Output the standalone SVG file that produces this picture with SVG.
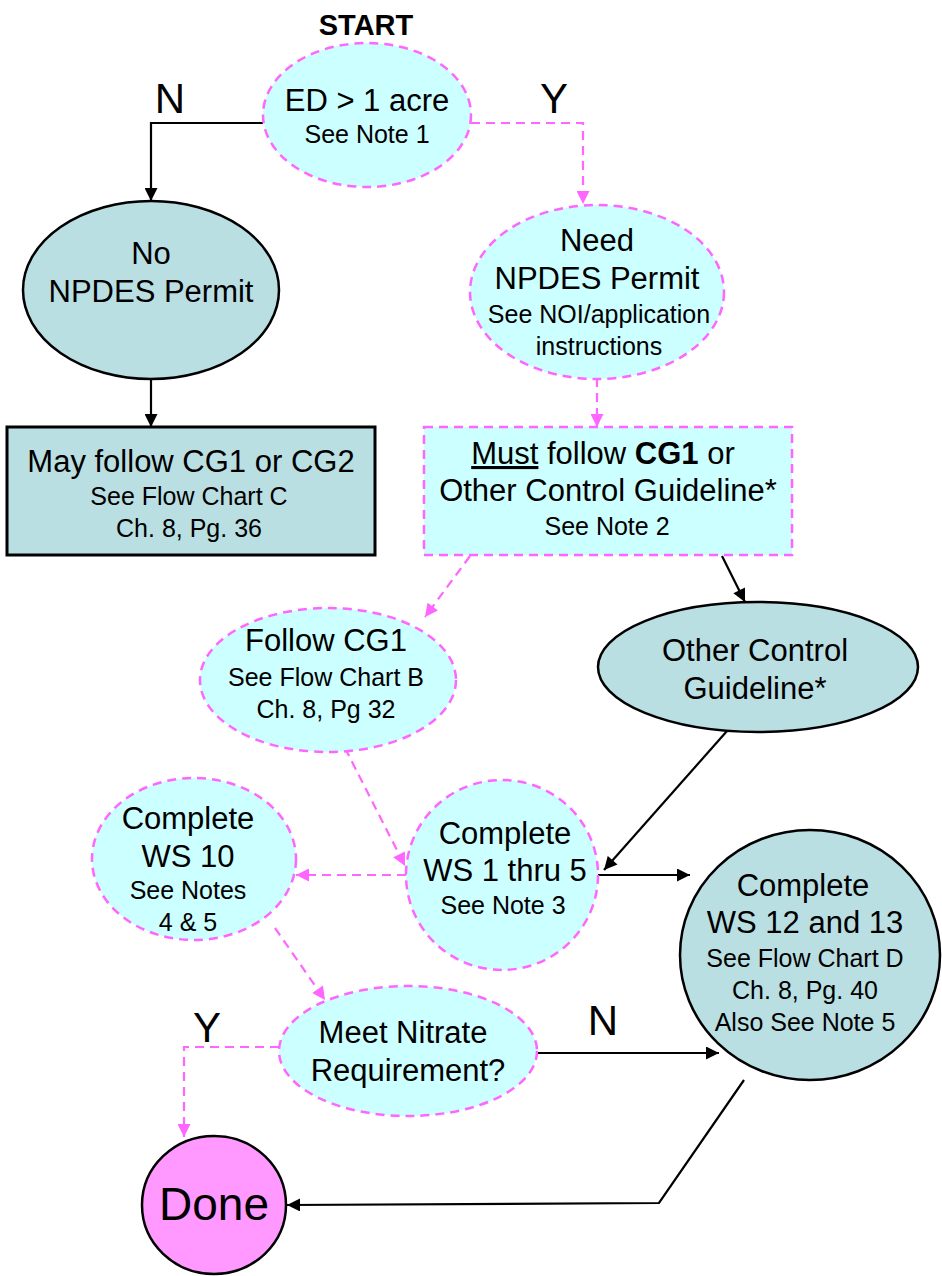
<svg xmlns="http://www.w3.org/2000/svg" width="942" height="1276" viewBox="0 0 942 1276">
<defs>
<marker id="ab" viewBox="0 0 10 10" refX="10" refY="5" markerWidth="14" markerHeight="13" orient="auto" markerUnits="userSpaceOnUse">
<path d="M0,0 L10,5 L0,10 z" fill="#000"/>
</marker>
<marker id="am" viewBox="0 0 10 10" refX="10" refY="5" markerWidth="14" markerHeight="13" orient="auto" markerUnits="userSpaceOnUse">
<path d="M0,0 L10,5 L0,10 z" fill="#ff66ff"/>
</marker>
<style>
text{font-family:"Liberation Sans",Arial,sans-serif;fill:#000;text-anchor:middle}
.b{font-size:31px}
.s{font-size:25px}
.lbl{font-size:42px}
.cy{fill:#ccffff;stroke:#ff66ff;stroke-width:2.5;stroke-dasharray:9,6}
.tl{fill:#b9dfe3;stroke:#000;stroke-width:2.5}
.blk{fill:none;stroke:#000;stroke-width:2.2;marker-end:url(#ab)}
.mg{fill:none;stroke:#ff66ff;stroke-width:2.2;stroke-dasharray:9,6;marker-end:url(#am)}
</style>
</defs>
<g id="connectors">
<path class="blk" d="M263,123 H151 V201"/>
<path class="mg" d="M471,123 H583 V204"/>
<path class="blk" d="M151,378 V427"/>
<path class="mg" d="M597,378 V427"/>
<path class="mg" d="M470,556 L425,617"/>
<path class="blk" d="M722,556 L745,602"/>
<path class="blk" d="M727,731 L604,870"/>
<path class="mg" d="M345,748 L405,866"/>
<path class="mg" d="M406,875 H296"/>
<path class="blk" d="M598,875 H690"/>
<path class="mg" d="M275,928 L325,1000"/>
<path class="blk" d="M537,1053 H719"/>
<path class="mg" d="M279,1047 H184 V1137"/>
<path class="blk" d="M744,1080 L659,1203 L287,1205"/>
</g>
<g id="labels">
<text x="366" y="35" style="font-size:29px;font-weight:bold">START</text>
<text class="lbl" x="170" y="113">N</text>
<text class="lbl" x="554" y="113">Y</text>
<text class="lbl" x="603" y="1035">N</text>
<text class="lbl" x="207" y="1042">Y</text>
</g>
<g id="n-ed">
<ellipse class="cy" cx="367" cy="115" rx="104" ry="72"/>
<text class="b" x="367" y="111">ED &gt; 1 acre</text>
<text class="s" x="367" y="143">See Note 1</text>
</g>
<g id="n-no">
<ellipse class="tl" cx="151" cy="290" rx="128" ry="89"/>
<text class="b" x="151" y="264">No</text>
<text class="b" x="151" y="302">NPDES Permit</text>
</g>
<g id="n-need">
<ellipse class="cy" cx="597" cy="292" rx="127" ry="87"/>
<text class="b" x="597" y="251">Need</text>
<text class="b" x="597" y="289">NPDES Permit</text>
<text class="s" x="599" y="323">See NOI/application</text>
<text class="s" x="599" y="355">instructions</text>
</g>
<g id="n-may">
<rect class="tl" x="7" y="427" width="368" height="128" style="stroke-width:3"/>
<text class="b" x="191" y="472">May follow CG1 or CG2</text>
<text class="s" x="189" y="505">See Flow Chart C</text>
<text class="s" x="189" y="537">Ch. 8, Pg. 36</text>
</g>
<g id="n-must">
<rect class="cy" x="424" y="427" width="368" height="128"/>
<text class="b" x="603" y="464"><tspan text-decoration="underline">Must</tspan> follow <tspan font-weight="bold">CG1</tspan> or</text>
<text class="b" x="608" y="501">Other Control Guideline*</text>
<text class="s" x="607" y="535">See Note 2</text>
</g>
<g id="n-follow">
<ellipse class="cy" cx="328" cy="680" rx="128" ry="72"/>
<text class="b" x="326" y="651">Follow CG1</text>
<text class="s" x="326" y="686">See Flow Chart B</text>
<text class="s" x="326" y="718">Ch. 8, Pg 32</text>
</g>
<g id="n-other">
<ellipse class="tl" cx="758" cy="667" rx="160" ry="65"/>
<text class="b" x="755" y="661">Other Control</text>
<text class="b" x="755" y="699">Guideline*</text>
</g>
<g id="n-ws15">
<ellipse class="cy" cx="502" cy="875" rx="96" ry="95"/>
<text class="b" x="505" y="844">Complete</text>
<text class="b" x="505" y="881">WS 1 thru 5</text>
<text class="s" x="503" y="914">See Note 3</text>
</g>
<g id="n-ws10">
<ellipse class="cy" cx="194" cy="859" rx="102" ry="81"/>
<text class="b" x="188" y="829">Complete</text>
<text class="b" x="188" y="867">WS 10</text>
<text class="s" x="188" y="899">See Notes</text>
<text class="s" x="188" y="931">4 &amp; 5</text>
</g>
<g id="n-ws12">
<ellipse class="tl" cx="810" cy="955" rx="130" ry="125"/>
<text class="b" x="803" y="896">Complete</text>
<text class="b" x="805" y="933">WS 12 and 13</text>
<text class="s" x="805" y="967">See Flow Chart D</text>
<text class="s" x="805" y="999">Ch. 8, Pg. 40</text>
<text class="s" x="805" y="1031">Also See Note 5</text>
</g>
<g id="n-meet">
<ellipse class="cy" cx="408" cy="1051" rx="129" ry="65"/>
<text class="b" x="403" y="1043">Meet Nitrate</text>
<text class="b" x="408" y="1081">Requirement?</text>
</g>
<g id="n-done">
<ellipse class="tl" cx="214" cy="1205" rx="72" ry="69" style="fill:#ff99ff"/>
<text x="214" y="1220" style="font-size:46px">Done</text>
</g>
</svg>
